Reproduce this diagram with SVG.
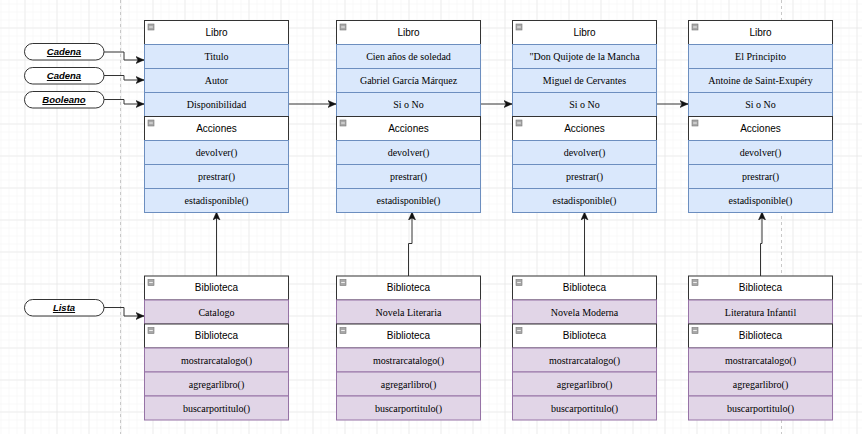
<svg xmlns="http://www.w3.org/2000/svg" width="862" height="434" viewBox="0 0 862 434">
<style>
.hdr{fill:#ffffff;stroke:#333333;stroke-width:1}
.brow{fill:#dae8fc;stroke:#6c8ebf;stroke-width:1}
.prow{fill:#e1d5e7;stroke:#9673a6;stroke-width:1}
.ht{font-family:"Liberation Sans",Arial,sans-serif;font-size:10px;fill:#000;text-anchor:middle}
.rt{font-family:"Liberation Serif","Times New Roman",serif;font-size:10px;fill:#000;text-anchor:middle}
.pill{fill:#ffffff;stroke:#333333;stroke-width:1}
.pt{font-family:"Liberation Sans",Arial,sans-serif;font-size:9.5px;font-weight:bold;font-style:italic;text-decoration:underline;fill:#000;text-anchor:middle}
.icon{fill:#a8a8a8;stroke:#777777;stroke-width:0.6}
.conn{fill:none;stroke:#333333;stroke-width:1}
</style>
<defs>
<pattern id="minor" patternUnits="userSpaceOnUse" x="0.5" y="3.5" width="8" height="8">
<path d="M0,0 H8 M0,0 V8" fill="none" stroke="#f4f4f4" stroke-width="1"/>
</pattern>
<pattern id="major" patternUnits="userSpaceOnUse" x="24.5" y="27.5" width="32" height="32">
<path d="M0,0 H32 M0,0 V32" fill="none" stroke="#e2e2e2" stroke-width="1"/>
</pattern>
<marker id="arr" markerUnits="userSpaceOnUse" markerWidth="10" markerHeight="10" refX="8" refY="4" orient="auto">
<path d="M0,0.5 L8,4 L0,7.5 L2,4 Z" fill="#111111" stroke="#111111" stroke-width="0.5"/>
</marker>
<g id="minus">
<rect class="icon" x="0" y="0" width="6" height="6"/>
<line x1="1.2" y1="3" x2="4.8" y2="3" stroke="#eeeeee" stroke-width="1"/>
</g>
</defs>

<g id="background">
<rect width="862" height="434" fill="#ffffff"/>
<rect width="862" height="434" fill="url(#minor)"/>
<rect width="862" height="434" fill="url(#major)"/>
<line x1="120.5" y1="0" x2="120.5" y2="434" stroke="#c8c8c8" stroke-dasharray="3,3"/>
<line x1="781.5" y1="0" x2="781.5" y2="434" stroke="#c8c8c8" stroke-dasharray="3,3"/>
</g>

<g id="connectors">
<path class="conn" d="M104,52 H124 V60 H144" marker-end="url(#arr)"/>
<path class="conn" d="M104,75.5 H124 V80 H144" marker-end="url(#arr)"/>
<path class="conn" d="M104,99.5 H124 V104 H144" marker-end="url(#arr)"/>
<path class="conn" d="M104,307.5 H124 V316 H144" marker-end="url(#arr)"/>
<path class="conn" d="M288,104 H336" marker-end="url(#arr)"/>
<path class="conn" d="M480,104 H512" marker-end="url(#arr)"/>
<path class="conn" d="M656,104 H688" marker-end="url(#arr)"/>
<path class="conn" d="M216.5,276 V212" marker-end="url(#arr)"/>
<path class="conn" d="M408.5,276 V243.5 H412 V212" marker-end="url(#arr)"/>
<path class="conn" d="M584.5,276 V212" marker-end="url(#arr)"/>
<path class="conn" d="M760.5,276 V243.5 H762 V212" marker-end="url(#arr)"/>
</g>

<g id="pill-cadena1">
<rect class="pill" x="24.5" y="43.5" width="79.5" height="16.5" rx="8.25"/>
<text class="pt" x="64" y="55">Cadena</text>
</g>
<g id="pill-cadena2">
<rect class="pill" x="24.5" y="67.5" width="79.5" height="16.5" rx="8.25"/>
<text class="pt" x="64" y="79">Cadena</text>
</g>
<g id="pill-booleano">
<rect class="pill" x="24.5" y="91.5" width="79.5" height="16.5" rx="8.25"/>
<text class="pt" x="64" y="103">Booleano</text>
</g>
<g id="pill-lista">
<rect class="pill" x="24.5" y="299.5" width="79.5" height="16.5" rx="8.25"/>
<text class="pt" x="64" y="311">Lista</text>
</g>

<!-- Libro 1 -->
<g id="libro1">
<rect class="hdr" x="144.5" y="20.5" width="144" height="24"/>
<use href="#minus" x="148" y="24"/>
<text class="ht" x="216.5" y="35.5">Libro</text>
<rect class="brow" x="144.5" y="44.5" width="144" height="24"/>
<text class="rt" x="216.5" y="60">Titulo</text>
<rect class="brow" x="144.5" y="68.5" width="144" height="24"/>
<text class="rt" x="216.5" y="84">Autor</text>
<rect class="brow" x="144.5" y="92.5" width="144" height="24"/>
<text class="rt" x="216.5" y="108">Disponibilidad</text>
<rect class="hdr" x="144.5" y="116.5" width="144" height="24"/>
<use href="#minus" x="148" y="120"/>
<text class="ht" x="216.5" y="131.5">Acciones</text>
<rect class="brow" x="144.5" y="140.5" width="144" height="24"/>
<text class="rt" x="216.5" y="156">devolver()</text>
<rect class="brow" x="144.5" y="164.5" width="144" height="24"/>
<text class="rt" x="216.5" y="180">prestrar()</text>
<rect class="brow" x="144.5" y="188.5" width="144" height="24"/>
<text class="rt" x="216.5" y="204">estadisponible()</text>
</g>

<!-- Libro 2 -->
<g id="libro2">
<rect class="hdr" x="336.5" y="20.5" width="144" height="24"/>
<use href="#minus" x="340" y="24"/>
<text class="ht" x="408.5" y="35.5">Libro</text>
<rect class="brow" x="336.5" y="44.5" width="144" height="24"/>
<text class="rt" x="408.5" y="60">Cien años de soledad</text>
<rect class="brow" x="336.5" y="68.5" width="144" height="24"/>
<text class="rt" x="408.5" y="84">Gabriel García Márquez</text>
<rect class="brow" x="336.5" y="92.5" width="144" height="24"/>
<text class="rt" x="408.5" y="108">Si o No</text>
<rect class="hdr" x="336.5" y="116.5" width="144" height="24"/>
<use href="#minus" x="340" y="120"/>
<text class="ht" x="408.5" y="131.5">Acciones</text>
<rect class="brow" x="336.5" y="140.5" width="144" height="24"/>
<text class="rt" x="408.5" y="156">devolver()</text>
<rect class="brow" x="336.5" y="164.5" width="144" height="24"/>
<text class="rt" x="408.5" y="180">prestrar()</text>
<rect class="brow" x="336.5" y="188.5" width="144" height="24"/>
<text class="rt" x="408.5" y="204">estadisponible()</text>
</g>

<!-- Libro 3 -->
<g id="libro3">
<rect class="hdr" x="512.5" y="20.5" width="144" height="24"/>
<use href="#minus" x="516" y="24"/>
<text class="ht" x="584.5" y="35.5">Libro</text>
<rect class="brow" x="512.5" y="44.5" width="144" height="24"/>
<text class="rt" x="584.5" y="60">"Don Quijote de la Mancha</text>
<rect class="brow" x="512.5" y="68.5" width="144" height="24"/>
<text class="rt" x="584.5" y="84">Miguel de Cervantes</text>
<rect class="brow" x="512.5" y="92.5" width="144" height="24"/>
<text class="rt" x="584.5" y="108">Si o No</text>
<rect class="hdr" x="512.5" y="116.5" width="144" height="24"/>
<use href="#minus" x="516" y="120"/>
<text class="ht" x="584.5" y="131.5">Acciones</text>
<rect class="brow" x="512.5" y="140.5" width="144" height="24"/>
<text class="rt" x="584.5" y="156">devolver()</text>
<rect class="brow" x="512.5" y="164.5" width="144" height="24"/>
<text class="rt" x="584.5" y="180">prestrar()</text>
<rect class="brow" x="512.5" y="188.5" width="144" height="24"/>
<text class="rt" x="584.5" y="204">estadisponible()</text>
</g>

<!-- Libro 4 -->
<g id="libro4">
<rect class="hdr" x="688.5" y="20.5" width="144" height="24"/>
<use href="#minus" x="692" y="24"/>
<text class="ht" x="760.5" y="35.5">Libro</text>
<rect class="brow" x="688.5" y="44.5" width="144" height="24"/>
<text class="rt" x="760.5" y="60">El Principito</text>
<rect class="brow" x="688.5" y="68.5" width="144" height="24"/>
<text class="rt" x="760.5" y="84">Antoine de Saint-Exupéry</text>
<rect class="brow" x="688.5" y="92.5" width="144" height="24"/>
<text class="rt" x="760.5" y="108">Si o No</text>
<rect class="hdr" x="688.5" y="116.5" width="144" height="24"/>
<use href="#minus" x="692" y="120"/>
<text class="ht" x="760.5" y="131.5">Acciones</text>
<rect class="brow" x="688.5" y="140.5" width="144" height="24"/>
<text class="rt" x="760.5" y="156">devolver()</text>
<rect class="brow" x="688.5" y="164.5" width="144" height="24"/>
<text class="rt" x="760.5" y="180">prestrar()</text>
<rect class="brow" x="688.5" y="188.5" width="144" height="24"/>
<text class="rt" x="760.5" y="204">estadisponible()</text>
</g>

<!-- Biblioteca 1 -->
<g id="biblioteca1">
<rect class="hdr" x="144.5" y="276" width="144" height="24"/>
<use href="#minus" x="148" y="279.5"/>
<text class="ht" x="216.5" y="291">Biblioteca</text>
<rect class="prow" x="144.5" y="300" width="144" height="24"/>
<text class="rt" x="216.5" y="315.5">Catalogo</text>
<rect class="hdr" x="144.5" y="324" width="144" height="24"/>
<use href="#minus" x="148" y="327.5"/>
<text class="ht" x="216.5" y="339">Biblioteca</text>
<rect class="prow" x="144.5" y="348" width="144" height="24"/>
<text class="rt" x="216.5" y="363.5">mostrarcatalogo()</text>
<rect class="prow" x="144.5" y="372" width="144" height="24"/>
<text class="rt" x="216.5" y="387.5">agregarlibro()</text>
<rect class="prow" x="144.5" y="396" width="144" height="24"/>
<text class="rt" x="216.5" y="411.5">buscarportitulo()</text>
</g>

<!-- Biblioteca 2 -->
<g id="biblioteca2">
<rect class="hdr" x="336.5" y="276" width="144" height="24"/>
<use href="#minus" x="340" y="279.5"/>
<text class="ht" x="408.5" y="291">Biblioteca</text>
<rect class="prow" x="336.5" y="300" width="144" height="24"/>
<text class="rt" x="408.5" y="315.5">Novela Literaria</text>
<rect class="hdr" x="336.5" y="324" width="144" height="24"/>
<use href="#minus" x="340" y="327.5"/>
<text class="ht" x="408.5" y="339">Biblioteca</text>
<rect class="prow" x="336.5" y="348" width="144" height="24"/>
<text class="rt" x="408.5" y="363.5">mostrarcatalogo()</text>
<rect class="prow" x="336.5" y="372" width="144" height="24"/>
<text class="rt" x="408.5" y="387.5">agregarlibro()</text>
<rect class="prow" x="336.5" y="396" width="144" height="24"/>
<text class="rt" x="408.5" y="411.5">buscarportitulo()</text>
</g>

<!-- Biblioteca 3 -->
<g id="biblioteca3">
<rect class="hdr" x="512.5" y="276" width="144" height="24"/>
<use href="#minus" x="516" y="279.5"/>
<text class="ht" x="584.5" y="291">Biblioteca</text>
<rect class="prow" x="512.5" y="300" width="144" height="24"/>
<text class="rt" x="584.5" y="315.5">Novela Moderna</text>
<rect class="hdr" x="512.5" y="324" width="144" height="24"/>
<use href="#minus" x="516" y="327.5"/>
<text class="ht" x="584.5" y="339">Biblioteca</text>
<rect class="prow" x="512.5" y="348" width="144" height="24"/>
<text class="rt" x="584.5" y="363.5">mostrarcatalogo()</text>
<rect class="prow" x="512.5" y="372" width="144" height="24"/>
<text class="rt" x="584.5" y="387.5">agregarlibro()</text>
<rect class="prow" x="512.5" y="396" width="144" height="24"/>
<text class="rt" x="584.5" y="411.5">buscarportitulo()</text>
</g>

<!-- Biblioteca 4 -->
<g id="biblioteca4">
<rect class="hdr" x="688.5" y="276" width="144" height="24"/>
<use href="#minus" x="692" y="279.5"/>
<text class="ht" x="760.5" y="291">Biblioteca</text>
<rect class="prow" x="688.5" y="300" width="144" height="24"/>
<text class="rt" x="760.5" y="315.5">Literatura Infantil</text>
<rect class="hdr" x="688.5" y="324" width="144" height="24"/>
<use href="#minus" x="692" y="327.5"/>
<text class="ht" x="760.5" y="339">Biblioteca</text>
<rect class="prow" x="688.5" y="348" width="144" height="24"/>
<text class="rt" x="760.5" y="363.5">mostrarcatalogo()</text>
<rect class="prow" x="688.5" y="372" width="144" height="24"/>
<text class="rt" x="760.5" y="387.5">agregarlibro()</text>
<rect class="prow" x="688.5" y="396" width="144" height="24"/>
<text class="rt" x="760.5" y="411.5">buscarportitulo()</text>
</g>
</svg>
